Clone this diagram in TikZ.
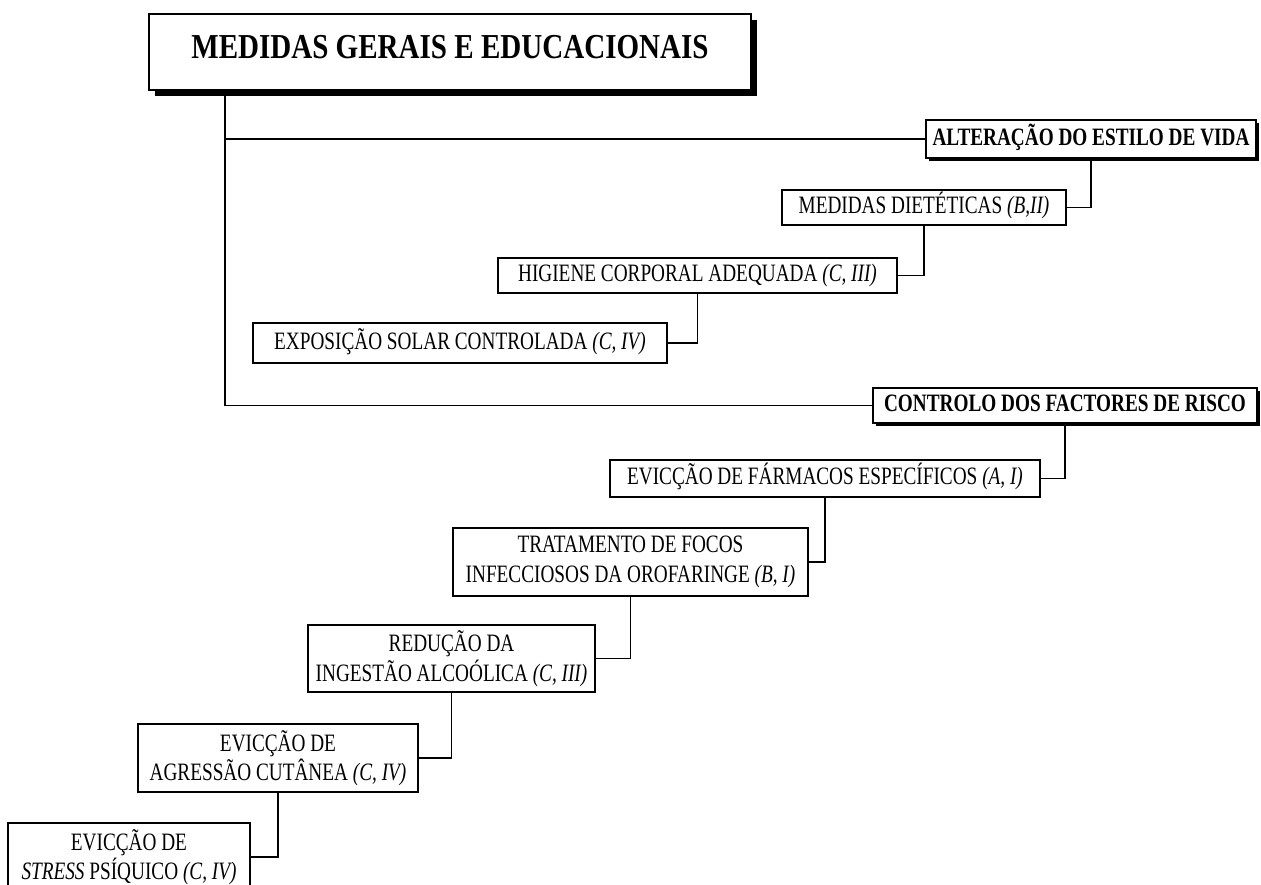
\documentclass[tikz,border=0pt]{standalone}
\usepackage{fontspec}
\setmainfont{Liberation Serif}[FakeStretch=0.77]
\newfontfamily\titlefont{Liberation Serif}[FakeStretch=0.83]
\usetikzlibrary{shadows}
\begin{document}
\begin{tikzpicture}[x=1pt,y=-1pt,
  box/.style={draw=black, line width=1.5pt, fill=white, inner sep=0pt, align=center,
    font=\fontsize{25}{29.5}\selectfont},
  one/.style={text height=16.5pt, text depth=4pt},
  head/.style={box, one, font=\fontsize{25}{29.5}\selectfont\bfseries,
    general shadow={fill=black, shadow xshift=3pt, shadow yshift=-3pt}},
  title/.style={box, font=\titlefont\fontsize{35}{40}\selectfont\bfseries,
    text height=23pt, text depth=9pt,
    general shadow={fill=black, shadow xshift=6pt, shadow yshift=-6pt}},
  link/.style={line width=1.6pt}]
\useasboundingbox (0,0) rectangle (1261,885);
\node[title, minimum width=602pt, minimum height=76pt] (main) at (450,52) {MEDIDAS GERAIS E EDUCACIONAIS};
\coordinate (tr) at (225,0);
\node[head, minimum width=330pt, minimum height=38pt] (alt) at (1091,139) {ALTERAÇÃO DO ESTILO DE VIDA};
\node[box, one, minimum width=284pt, minimum height=35pt] (med) at (924,207.5) {MEDIDAS DIETÉTICAS \textit{(B,II)}};
\node[box, one, minimum width=399pt, minimum height=35pt] (hig) at (697.5,275.5) {HIGIENE CORPORAL ADEQUADA \textit{(C, III)}};
\node[box, one, minimum width=414pt, minimum height=40pt] (exp) at (460,343) {EXPOSIÇÃO SOLAR CONTROLADA \textit{(C, IV)}};
\node[head, minimum width=384pt, minimum height=35pt] (ctrl) at (1065,405.5) {CONTROLO DOS FACTORES DE RISCO};
\node[box, one, minimum width=430pt, minimum height=37pt] (far) at (825,478.5) {EVICÇÃO DE FÁRMACOS ESPECÍFICOS \textit{(A, I)}};
\node[box, minimum width=355pt, minimum height=68pt] (tra) at (630.5,562) {TRATAMENTO DE FOCOS\\INFECCIOSOS DA OROFARINGE \textit{(B, I)}};
\node[box, minimum width=287pt, minimum height=67pt] (red) at (451.5,658.5) {REDUÇÃO DA\\INGESTÃO ALCOÓLICA \textit{(C, III)}};
\node[box, minimum width=280pt, minimum height=68pt] (agr) at (278,758) {EVICÇÃO DE\\AGRESSÃO CUTÂNEA \textit{(C, IV)}};
\node[box, minimum width=242pt, minimum height=68pt] (str) at (129,857) {EVICÇÃO DE\\\textit{STRESS} PSÍQUICO \textit{(C, IV)}};
\draw[link] (main.south -| tr) |- (alt.west);
\draw[link] (main.south -| tr) |- (ctrl.west);
\draw[link] (alt.south) |- (med.east);
\draw[link] (med.south) |- (hig.east);
\draw[link] (hig.south) |- (exp.east);
\draw[link] (ctrl.south) |- (far.east);
\draw[link] (far.south) |- (tra.east);
\draw[link] (tra.south) |- (red.east);
\draw[link] (red.south) |- (agr.east);
\draw[link] (agr.south) |- (str.east);
\end{tikzpicture}
\end{document}
